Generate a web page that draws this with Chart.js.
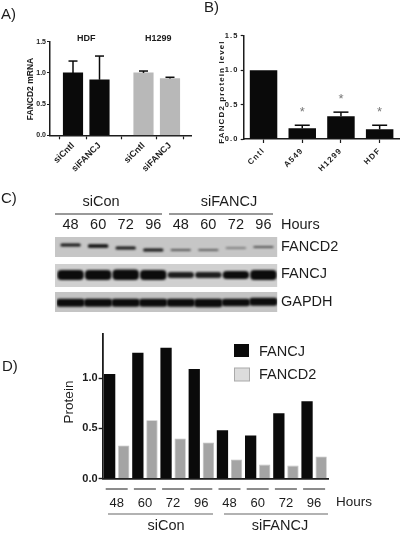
<!DOCTYPE html>
<html><head><meta charset="utf-8">
<script src="https://cdn.jsdelivr.net/npm/chart.js@4"></script>
<style>
html,body{margin:0;padding:0;background:#fff;width:400px;height:539px;overflow:hidden}
canvas{position:absolute;left:0;top:0;filter:blur(.35px)}
</style></head><body>
<canvas id="a" width="400" height="539"></canvas>
<canvas id="b" width="400" height="539"></canvas>
<canvas id="c" width="400" height="539"></canvas>
<canvas id="d" width="400" height="539"></canvas>
<script>
// Panel A
const aLabels=['siCntl','siFANCJ','siCntl','siFANCJ'];
const aSlots=[0,1,2.66,3.66];
const hdfValues=[1.0,0.89];
const hdfErrorTops=[1.19,1.27];
const h1299Values=[1.0,0.91];
const h1299ErrorTops=[1.03,0.93];
const aTicks=[0,0.5,1,1.5];
// Panel B
const bCategories=['Cntl','A549','H1299','HDF'];
const bValues=[1.0,0.155,0.33,0.14];
const bErrorTops=[null,0.20,0.39,0.20];
const bStars=[false,true,true,true];
const bTicks=[0,0.5,1,1.5];
// Panel C (blot): band extents in gel units, per lane
const cHours=['48','60','72','96','48','60','72','96'];
const fancd2Bands=[[6.4,9.6],[7.2,10.8],[9.4,12.6],[11.4,14.6],[12,14],[12,14],[10.2,11.8],[9,11]];
const fancd2Density=[.95,1,.95,.95,.6,.55,.5,.6];
const fancjBands=[[33,43],[33,43],[32.5,43],[33,43],[35,41],[35,41],[34,42],[33,43]];
const fancjDensity=[1,1,1,1,.9,.9,1,1];
const gapdhBands=[[62,69.5],[62,69.5],[62,69.5],[62,69.5],[62,69.5],[62,70],[62,69],[61,68.5]];
const gapdhDensity=[1,1,1,1,1,1,1,1];
// Panel D
const dHours=['48','60','72','96','48','60','72','96'];
const fancjValues=[1.04,1.25,1.30,1.09,0.48,0.43,0.65,0.77];
const fancd2Values=[0.33,0.58,0.40,0.36,0.19,0.14,0.13,0.22];
const dTicks=[0,0.5,1];

const FAM='"Liberation Sans",Arial,sans-serif';
const INK='#1c1c1c';
function note(ctx,str,x,y,font,o={}){
  ctx.save();
  ctx.font=font+' '+FAM;
  ctx.fillStyle=o.color||INK;
  ctx.textAlign=o.align||'left';
  ctx.textBaseline='middle';
  ctx.letterSpacing=o.spacing||'0px';
  ctx.translate(x,y);
  if(o.rot)ctx.rotate(o.rot);
  ctx.fillText(str,0,0);
  ctx.restore();
}
function line(ctx,x1,y1,x2,y2,color,w){
  ctx.save();ctx.strokeStyle=color;ctx.lineWidth=w;ctx.beginPath();ctx.moveTo(x1,y1);ctx.lineTo(x2,y2);ctx.stroke();ctx.restore();
}
// chart-area edges L,T,R,B; yW and xH are the widths reserved for the y and x axis boxes
function box(L,T,R,B,yW,xH,top){return {autoPadding:false,padding:{left:L-yW,top:top?T-xH:T,right:400-R,bottom:top?539-B:539-B-xH}};}
const fixW=w=>s=>{s.width=w};
const fixH=h=>s=>{s.height=h};
const keep=vals=>s=>{s.ticks=vals.map(v=>({value:v}))};
const errorBars={id:'errorBars',afterDatasetsDraw(chart,_,o){
  chart.data.datasets.forEach((ds,di)=>{
    if(!ds.errorTops)return;
    const meta=chart.getDatasetMeta(di);
    meta.data.forEach((bar,i)=>{
      const t=ds.errorTops[i];if(t==null)return;
      const y=chart.scales.y.getPixelForValue(t);
      line(chart.ctx,bar.x,bar.y,bar.x,y,'#0a0a0a',1.5);
      line(chart.ctx,bar.x-o.cap,y,bar.x+o.cap,y,'#0a0a0a',1.5);
    });
  });
}};
const base={responsive:false,animation:false,events:[],devicePixelRatio:1};

// ---------- A
new Chart(document.getElementById('a'),{
  type:'bar',
  data:{datasets:[
    {label:'HDF',data:hdfValues.map((v,i)=>({x:aSlots[i],y:v})),errorTops:hdfErrorTops,backgroundColor:'#0a0a0a',barThickness:19.5,grouped:false},
    {label:'H1299',data:h1299Values.map((v,i)=>({x:aSlots[i+2],y:v})),errorTops:h1299ErrorTops,backgroundColor:'#b8b8b8',barThickness:19.5,grouped:false}
  ]},
  options:{...base,layout:box(50,41.7,191,135.3,30,50),
    plugins:{legend:{display:false},tooltip:{enabled:false},errorBars:{cap:4.5}},
    scales:{
      x:{type:'linear',offset:false,min:-0.868,max:4.453,afterFit:fixH(50),afterBuildTicks:keep(aSlots),
        grid:{drawOnChartArea:false,color:INK,tickLength:4,tickWidth:1.2},border:{color:INK,width:1.5},
        ticks:{autoSkip:false,maxRotation:45,minRotation:45,padding:1,color:INK,font:{family:FAM,size:9,weight:'bold'},callback:(v,i)=>aLabels[i]}},
      y:{min:0,max:1.5,afterFit:fixW(30),afterBuildTicks:keep(aTicks),
        grid:{drawOnChartArea:false,color:INK,tickLength:3,tickWidth:1.2},border:{color:INK,width:1.5},
        ticks:{padding:1,color:INK,font:{family:FAM,size:7,weight:'bold'},callback:v=>v.toFixed(1)}}
    }},
  plugins:[errorBars,{id:'aText',afterDraw(ch){
    const c=ch.ctx,x=ch.scales.x;
    note(c,'FANCD2 mRNA',31,89,'bold 8.5px',{align:'center',rot:-Math.PI/2});
    note(c,'HDF',(x.getPixelForValue(aSlots[0])+x.getPixelForValue(aSlots[1]))/2,39,'bold 9px',{align:'center'});
    note(c,'H1299',(x.getPixelForValue(aSlots[2])+x.getPixelForValue(aSlots[3]))/2+1.5,39,'bold 9px',{align:'center'});
    note(c,'A)',1,15,'15px');
  }}]
});

// ---------- B
new Chart(document.getElementById('b'),{
  type:'bar',
  data:{labels:bCategories,datasets:[{label:'FANCD2 protein level',data:bValues,errorTops:bErrorTops,backgroundColor:'#0a0a0a',barPercentage:.71,categoryPercentage:1}]},
  options:{...base,layout:box(244.2,35.7,399,139,30,50),
    plugins:{legend:{display:false},tooltip:{enabled:false},errorBars:{cap:7.5}},
    scales:{
      x:{afterFit:fixH(50),grid:{drawOnChartArea:false,color:INK,tickLength:4,tickWidth:1.2,offset:false},border:{color:INK,width:1.5},
        ticks:{autoSkip:false,maxRotation:45,minRotation:45,padding:3,color:INK,font:{family:FAM,size:8,weight:'bold'}}},
      y:{min:0,max:1.5,afterFit:fixW(30),afterBuildTicks:keep(bTicks),
        grid:{drawOnChartArea:false,color:INK,tickLength:3.5,tickWidth:1.2},border:{color:INK,width:1.5},
        ticks:{padding:2,color:INK,font:{family:FAM,size:7.5,weight:'bold'},callback:v=>v.toFixed(1)}}
    }},
  plugins:[errorBars,{id:'bText',
    beforeDraw(ch){ch.ctx.letterSpacing='1.2px'},
    afterDraw(ch){
      const c=ch.ctx,m=ch.getDatasetMeta(0);
      c.letterSpacing='0px';
      note(c,'FANCD2 protein level',222,92,'bold 8px',{align:'center',rot:-Math.PI/2,spacing:'1.1px'});
      m.data.forEach((bar,i)=>{
        if(bStars[i])note(c,'*',bar.x,ch.scales.y.getPixelForValue(bErrorTops[i])-13,'13px',{align:'center',color:'#777'});
      });
      note(c,'B)',204,8,'15px');
    }}]
});

// ---------- C
const bandColor=d=>{const v=Math.round(196-(196-12)*d);return `rgb(${v},${v},${v})`};
new Chart(document.getElementById('c'),{
  type:'bar',
  data:{labels:cHours,datasets:[
    {label:'FANCD2',data:fancd2Bands,backgroundColor:fancd2Density.map(bandColor),barPercentage:.74,categoryPercentage:1,grouped:false,borderRadius:1.5,borderSkipped:false},
    {label:'FANCJ',data:fancjBands,backgroundColor:fancjDensity.map(bandColor),barPercentage:.96,categoryPercentage:1,grouped:false,borderRadius:4,borderSkipped:false},
    {label:'GAPDH',data:gapdhBands,backgroundColor:gapdhDensity.map(bandColor),barPercentage:1,categoryPercentage:1,grouped:false,borderRadius:3,borderSkipped:false}
  ]},
  options:{...base,layout:box(56.8,237,277.2,312,0,22,true),
    plugins:{legend:{display:false},tooltip:{enabled:false}},
    scales:{
      x:{position:'top',afterFit:fixH(22),grid:{display:false,drawTicks:false,tickLength:0},border:{display:false},
        ticks:{autoSkip:false,maxRotation:0,padding:3,color:INK,font:{family:FAM,size:14.5}}},
      y:{reverse:true,min:0,max:75,display:false}
    }},
  plugins:[{id:'gel',
    beforeDatasetsDraw(ch){
      const c=ch.ctx,y=ch.scales.y,a=ch.chartArea;
      [[0,20,'#c6c6c6'],[27,50,'#d0d0d0'],[55,75,'#c4c4c4']].forEach(r=>{
        c.fillStyle=r[2];
        c.fillRect(a.left-1.8,y.getPixelForValue(r[0]),a.right-a.left+1.8,y.getPixelForValue(r[1])-y.getPixelForValue(r[0]));
      });
    },
    beforeDatasetDraw(ch){ch.ctx.filter='blur(.8px)'},
    afterDatasetDraw(ch){ch.ctx.filter='none'},
    afterDraw(ch){
      const c=ch.ctx;
      note(c,'siCon',101,202,'14.5px',{align:'center'});
      note(c,'siFANCJ',229,202,'14.5px',{align:'center'});
      line(c,55,214,162,214,'#777',1.5);
      line(c,169,214,273,214,'#777',1.5);
      note(c,'Hours',281,225,'14.5px');
      note(c,'FANCD2',281,247,'14.5px');
      note(c,'FANCJ',281,274,'14.5px');
      note(c,'GAPDH',281,302,'14.5px');
      note(c,'C)',1,199,'15px');
    }}]
});

// ---------- D
new Chart(document.getElementById('d'),{
  type:'bar',
  data:{labels:dHours,datasets:[
    {label:'FANCJ',data:fancjValues,backgroundColor:'#0a0a0a',barPercentage:.8,categoryPercentage:1},
    {label:'FANCD2',data:fancd2Values,backgroundColor:'#a4a4a4',borderColor:'#bdbdbd',borderWidth:.8,barPercentage:.8,categoryPercentage:1}
  ]},
  options:{...base,layout:box(102.6,334,328.2,478.7,30,35),
    plugins:{legend:{display:false},tooltip:{enabled:false}},
    scales:{
      x:{afterFit:fixH(35),grid:{display:false,drawTicks:false,tickLength:0},border:{color:INK,width:1.8},
        ticks:{autoSkip:false,maxRotation:0,padding:17,color:INK,font:{family:FAM,size:13}}},
      y:{min:0,max:1.437,afterFit:fixW(30),afterBuildTicks:keep(dTicks),
        grid:{drawOnChartArea:false,color:INK,tickLength:4,tickWidth:1.4},border:{color:INK,width:1.8},
        ticks:{padding:1,color:INK,font:{family:FAM,size:11,weight:'bold'},callback:v=>v.toFixed(1)}}
    }},
  plugins:[{id:'dText',afterDraw(ch){
    const c=ch.ctx,x=ch.scales.x;
    dHours.forEach((_,i)=>{const p=x.getPixelForTick(i);line(c,p-11,489,p+11,489,'#666',1.5);});
    line(c,108,514,213,514,'#666',1.2);
    line(c,224,514,328,514,'#666',1.2);
    note(c,'Hours',336,502,'13.5px');
    note(c,'siCon',166,526,'14.5px',{align:'center'});
    note(c,'siFANCJ',280,526,'14.5px',{align:'center'});
    note(c,'Protein',69,402,'13.5px',{align:'center',rot:-Math.PI/2});
    note(c,'D)',2,367,'15px');
    // legend
    c.fillStyle='#0a0a0a';c.fillRect(234,344,15,13);
    c.fillStyle='#dcdcdc';c.strokeStyle='#aaa';c.lineWidth=1;c.fillRect(234.5,368,15,13);c.strokeRect(234.5,368,15,13);
    note(c,ch.data.datasets[0].label,259,352,'14.5px');
    note(c,ch.data.datasets[1].label,259,375,'14.5px');
  }}]
});
</script>
</body></html>
